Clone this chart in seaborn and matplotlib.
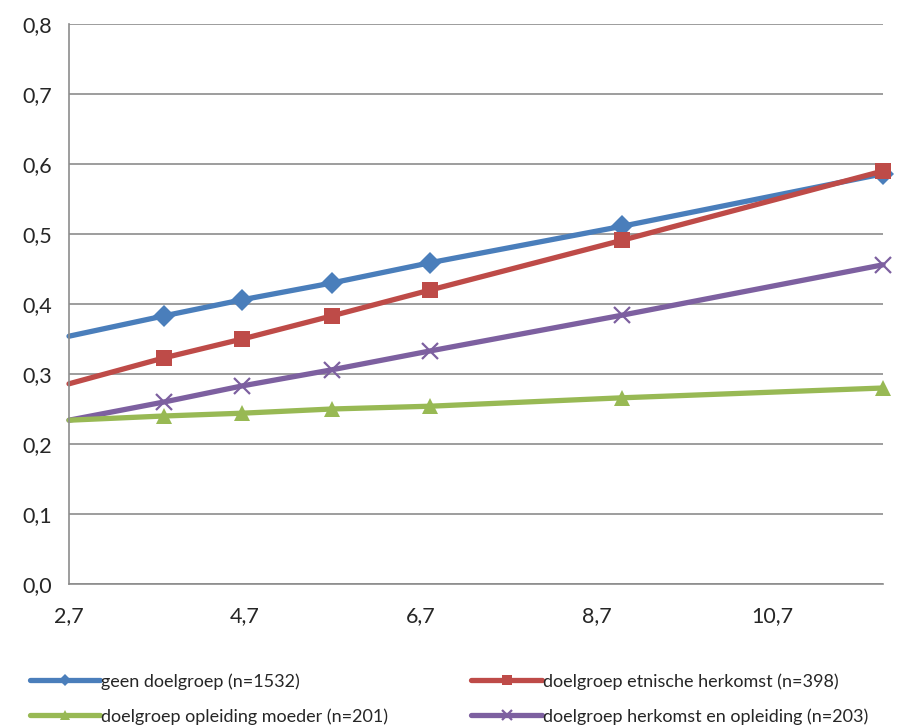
import pandas as pd
import matplotlib.pyplot as plt
import matplotlib.ticker as ticker
import seaborn as sns

# values
x_vals = [2.7, 3.78, 4.67, 5.69, 6.81, 8.99, 11.96]
geen = [0.354, 0.383, 0.406, 0.430, 0.459, 0.511, 0.586]
etnisch = [0.286, 0.323, 0.350, 0.383, 0.420, 0.491, 0.590]
moeder = [0.234, 0.240, 0.244, 0.250, 0.254, 0.266, 0.280]
herkomst_opl = [0.234, 0.260, 0.283, 0.306, 0.333, 0.384, 0.456]

labels = ['geen doelgroep (n=1532)', 'doelgroep etnische herkomst (n=398)',
          'doelgroep opleiding moeder (n=201)', 'doelgroep herkomst en opleiding (n=203)']
x_ticks = [2.7, 4.7, 6.7, 8.7, 10.7]
y_ticks = [0.0, 0.1, 0.2, 0.3, 0.4, 0.5, 0.6, 0.7, 0.8]

sns.set_style('white')
plt.rcParams['font.family'] = ['Lato', 'DejaVu Sans']

fig = plt.figure(figsize=(8.97, 7.26), dpi=100)
ax = fig.add_axes([69 / 897, 1 - 584 / 726, (883 - 69) / 897, (584 - 24) / 726])

series = [
    (geen, '#4A7EBB', 'D', 11, labels[0]),
    (etnisch, '#BE4B48', 's', 12, labels[1]),
    (herkomst_opl, '#7D60A0', 'x', 12, labels[3]),
    (moeder, '#98B954', '^', 12, labels[2]),
]
handles = {}
for vals, col, mk, ms, lab in series:
    df = pd.DataFrame({'x': x_vals, 'y': vals})
    sns.lineplot(data=df, x='x', y='y', ax=ax, color=col, linewidth=3.8,
                 marker=mk, markersize=ms, markeredgewidth=1.6 if mk == 'x' else 0,
                 markeredgecolor=col, markevery=slice(1, None), clip_on=False)
    handles[lab] = ax.lines[-1]

ax.set_xlim(2.7, 11.96)
ax.set_ylim(0, 0.8)
ax.set_xticks(x_ticks)
ax.set_yticks(y_ticks)
ax.xaxis.set_major_formatter(ticker.FuncFormatter(lambda v, p: f'{v:.1f}'.replace('.', ',')))
ax.yaxis.set_major_formatter(ticker.FuncFormatter(lambda v, p: f'{v:.1f}'.replace('.', ',')))
ax.set_xlabel('')
ax.set_ylabel('')
ax.grid(axis='y', color='#8c8c8c', linewidth=1.2)
ax.set_axisbelow(True)
for s in ['top', 'right']:
    ax.spines[s].set_visible(False)
for s in ['left', 'bottom']:
    ax.spines[s].set_color('#8c8c8c')
    ax.spines[s].set_linewidth(1.2)
ax.tick_params(axis='both', length=6, width=1.2, color='#8c8c8c', labelsize=15.5, pad=6, direction='out')
ax.tick_params(axis='x', pad=10)

# matplotlib fills legend columns first, so reorder to get the row layout
order = [labels[0], labels[2], labels[1], labels[3]]
fig.legend([handles[l] for l in order], order, ncol=2, loc='upper left',
           bbox_to_anchor=(30 / 897, 1 - 673 / 726), frameon=False, fontsize=13,
           handlelength=3.9, handletextpad=0.05, columnspacing=4.6, labelspacing=1.02,
           borderaxespad=0, borderpad=0, markerscale=0.6)

fig.savefig('out.png', dpi=100)
